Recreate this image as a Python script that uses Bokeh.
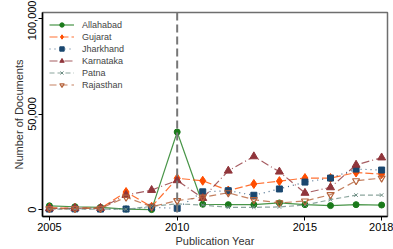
from bokeh.plotting import figure
from bokeh.models import Span, Legend, LegendItem, NumeralTickFormatter, FixedTicker, Range1d
from bokeh.embed import file_html
from bokeh.resources import INLINE

years = [2005, 2006, 2007, 2008, 2009, 2010, 2011, 2012, 2013, 2014, 2015, 2016, 2017, 2018]
allahabad = [2000, 1500, 1200, 300, 0, 40600, 2800, 2600, 2600, 3500, 2600, 2100, 2600, 2400]
gujarat = [900, 800, 700, 9200, 1500, 16400, 15100, 10000, 13400, 14900, 16500, 16500, 19400, 18600]
jharkhand = [300, 400, 300, 300, 1200, 700, 9300, 9900, 7500, 10800, 14400, 16500, 21200, 20700]
karnataka = [600, 700, 800, 7600, 10200, 15300, 6000, 20300, 27800, 19800, 8700, 11600, 23400, 27200]
patna = [300, 300, 300, 200, 1700, 3000, 2400, 1200, 1200, 1400, 2400, 5200, 7600, 7600]
rajasthan = [500, 600, 600, 6500, 1500, 4700, 6500, 8800, 5200, 3500, 4500, 7800, 15100, 16500]
x_ticks = [2005, 2010, 2015, 2018]
y_ticks = [0, 50000, 100000]
event_year = 2010

FONT = "Liberation Sans"

p = figure(width=393, height=249, output_backend="svg", toolbar_location=None,
           x_range=Range1d(2004.73, 2018.23), y_range=Range1d(-3600, 103100),
           min_border_left=42, min_border_right=6, min_border_top=12, min_border_bottom=32)
p.background_fill_color = "white"
p.border_fill_color = "white"
p.outline_line_color = "#6e6e6e"
p.outline_line_width = 1.5
p.grid.visible = False

series = [
    ("Allahabad", allahabad, "#1a7a1a", "solid", "circle", 6, 1.0),
    ("Gujarat", gujarat, "#ff4d00", "8 3", "diamond", 9, 1.0),
    ("Jharkhand", jharkhand, "#1a476f", "1 4", "square", 6, 1.0),
    ("Karnataka", karnataka, "#90353b", "8 3 1 3", "triangle", 8, 1.0),
    ("Patna", patna, "#6e8e84", "5 3", "x", 5, 1.0),
    ("Rajasthan", rajasthan, "#b5623a", "7 4", "inverted_triangle", 7, 0.0),
]

items = []
for name, vals, col, dash, mk, sz, fa in series:
    r1 = p.line(years, vals, line_color=col, line_dash=dash, line_width=1.2, line_alpha=0.8)
    r2 = p.scatter(years, vals, marker=mk, size=sz, fill_color=col, fill_alpha=fa,
                   line_color=col, line_width=1.2 if fa == 0 else 1)
    items.append(LegendItem(label=name, renderers=[r1, r2]))

span = Span(location=event_year, dimension="height", line_color="#777777",
            line_width=2, line_dash="8 4")
p.add_layout(span)

legend = Legend(items=items, location="top_left", margin=0, padding=7,
                spacing=1, glyph_width=25, glyph_height=11, label_height=11,
                label_standoff=8, label_text_font=FONT, label_text_font_size="9px",
                border_line_alpha=0, background_fill_alpha=0)
p.add_layout(legend, "center")

p.xaxis.ticker = FixedTicker(ticks=x_ticks)
p.yaxis.ticker = FixedTicker(ticks=y_ticks)
p.yaxis.formatter = NumeralTickFormatter(format="0,0")
p.yaxis.major_label_orientation = "parallel"
p.xaxis.minor_tick_line_color = None
p.yaxis.minor_tick_line_color = None
for ax in (p.xaxis, p.yaxis):
    ax.axis_line_color = "black"
    ax.axis_line_width = 1.5
    ax.major_tick_line_color = "black"
    ax.major_tick_in = 0
    ax.major_tick_out = 4
    ax.major_label_text_font = FONT
    ax.major_label_text_font_size = "11px"
    ax.major_label_text_color = "black"
    ax.axis_label_text_font = FONT
    ax.axis_label_text_font_size = "11px"
    ax.axis_label_text_font_style = "normal"
    ax.axis_label_text_color = "#333333"
    ax.major_label_standoff = 2
    ax.axis_label_standoff = 1
p.xaxis.axis_label = "Publication Year"
p.yaxis.axis_label = "Number of Documents"

open("out.html", "w").write(file_html(p, INLINE))
